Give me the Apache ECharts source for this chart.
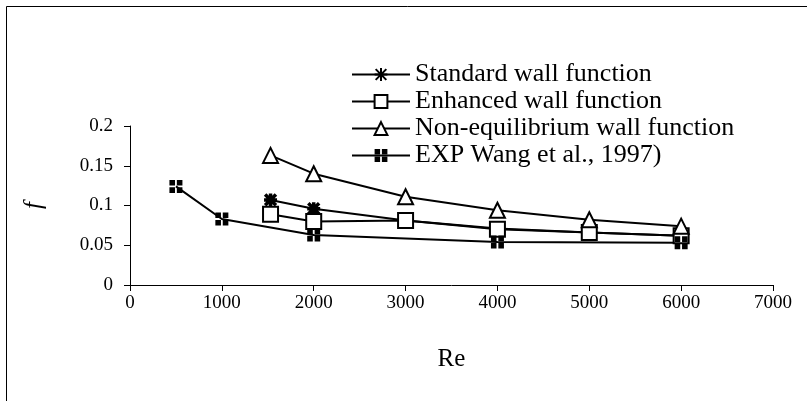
<!DOCTYPE html>
<html>
<head>
<meta charset="utf-8">
<script src="https://cdn.jsdelivr.net/npm/echarts@6/dist/echarts.min.js"></script>
<style>html,body{margin:0;padding:0;background:#fff}#c{width:807px;height:401px}</style>
</head>
<body>
<div id="c"></div>
<script>
const seriesNames = ['Standard wall function', 'Enhanced wall function', 'Non-equilibrium wall function', 'EXP Wang et al., 1997)'];
const stdRe = [1530, 2000, 3000, 4000, 5000, 6000];
const stdF = [0.107, 0.096, 0.081, 0.071, 0.066, 0.062];
const enhRe = [1530, 2000, 3000, 4000, 5000, 6000];
const enhF = [0.089, 0.080, 0.081, 0.070, 0.066, 0.062];
const neqRe = [1530, 2000, 3000, 4000, 5000, 6000];
const neqF = [0.163, 0.140, 0.111, 0.094, 0.082, 0.074];
const expRe = [500, 1000, 2000, 4000, 6000];
const expF = [0.124, 0.083, 0.063, 0.054, 0.053];
const xTicks = [0, 1000, 2000, 3000, 4000, 5000, 6000, 7000];
const yTicks = [0, 0.05, 0.1, 0.15, 0.2];

const pair = (xs, ys) => xs.map((x, i) => [x, ys[i]]);
const FONT = '"Liberation Serif", "Times New Roman", serif';

const starPath = 'path://M0,0L10,10M10,0L0,10M5,-1L5,11M-1,5L11,5';
const expPath = 'path://M0,0h4.3v4.3h-4.3zM5.7,0h4.3v4.3h-4.3zM0,5.7h4.3v4.3h-4.3zM5.7,5.7h4.3v4.3h-4.3z';

function mk(name, data, symbol, size, fill, lw, bw) {
  return {
    name, type: 'line', data,
    symbol, symbolSize: size, showAllSymbol: true,
    lineStyle: { color: '#000', width: lw },
    itemStyle: { color: fill, borderColor: '#000', borderWidth: bw },
    emphasis: { disabled: true },
    animation: false
  };
}

const chart = echarts.init(document.getElementById('c'), null, { renderer: 'canvas' });
chart.setOption({
  backgroundColor: '#fff',
  animation: false,
  graphic: [{
    type: 'rect', shape: { x: 6.5, y: 6.5, width: 830, height: 430 },
    style: { fill: 'none', stroke: '#000', lineWidth: 1 }, silent: true
  }],
  grid: { left: 130, right: 34, top: 126, bottom: 116 },
  legend: {
    orient: 'vertical', left: 346, top: 56, itemWidth: 58, itemHeight: 16, itemGap: 0,
    data: seriesNames,
    textStyle: { fontFamily: FONT, fontSize: 26, color: '#000', lineHeight: 27, padding: [0, 0, 0, 0] }
  },
  xAxis: {
    type: 'value', min: xTicks[0], max: xTicks[xTicks.length - 1], interval: 1000,
    name: 'Re', nameLocation: 'middle', nameGap: 62,
    nameTextStyle: { fontFamily: FONT, fontSize: 25, color: '#000' },
    axisLine: { lineStyle: { color: '#000', width: 1 } },
    axisTick: { show: true, length: 6, lineStyle: { color: '#000' } },
    axisLabel: { fontFamily: FONT, fontSize: 19, color: '#000', margin: 9, formatter: v => String(v) },
    splitLine: { show: false }
  },
  yAxis: {
    type: 'value', min: yTicks[0], max: yTicks[yTicks.length - 1], interval: 0.05,
    name: 'f', nameLocation: 'middle', nameGap: 83, nameRotate: 90,
    nameTextStyle: { fontFamily: FONT, fontSize: 25, fontStyle: 'italic', color: '#000' },
    axisLine: { show: true, lineStyle: { color: '#000', width: 1 } },
    axisTick: { show: true, length: 6, lineStyle: { color: '#000' } },
    axisLabel: { fontFamily: FONT, fontSize: 19, color: '#000', margin: 17, formatter: v => String(v) },
    splitLine: { show: false }
  },
  series: [
    mk(seriesNames[0], pair(stdRe, stdF), starPath, 13, '#000', 2, 3.5),
    mk(seriesNames[1], pair(enhRe, enhF), 'rect', 15, '#fff', 2, 2),
    mk(seriesNames[2], pair(neqRe, neqF), 'triangle', 15, '#fff', 2, 2),
    mk(seriesNames[3], pair(expRe, expF), expPath, 13, '#000', 2, 0)
  ]
});
</script>
</body>
</html>
